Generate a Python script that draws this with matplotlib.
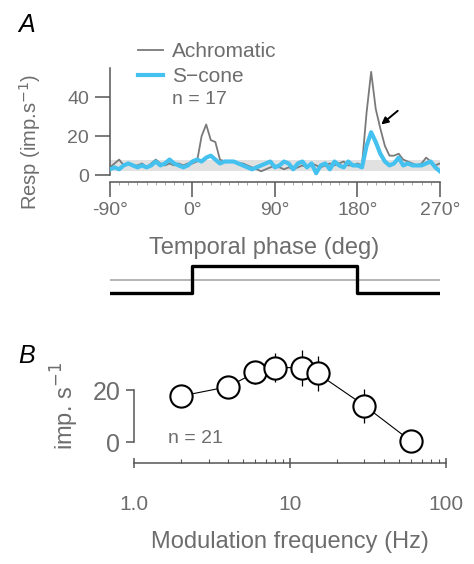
import numpy as np
import matplotlib.pyplot as plt
from matplotlib.ticker import MultipleLocator, FixedLocator, NullFormatter

plt.rcParams['font.family'] = ['Liberation Sans', 'DejaVu Sans']

# --- Panel A: population response vs temporal phase ---
phase = list(range(-90, 275, 5))
achromatic = [4, 6, 8, 5, 6, 5, 5, 6, 4, 6, 8, 6, 5, 6, 5, 6, 5, 6,
              6, 7, 20, 26, 18, 17, 8, 7, 7, 7, 6, 6, 5, 4, 3, 2, 3, 4,
              5, 4, 3, 4, 3, 4, 5, 4, 6, 5, 4, 5, 6, 5, 6, 7, 5, 5,
              6, 5, 32, 53, 34, 24, 15, 10, 10, 11, 8, 7, 6, 5, 6, 9, 7, 5, 6]
s_cone = [3, 4, 3, 5, 6, 5, 4, 5, 4, 5, 7, 5, 6, 8, 6, 5, 4, 5,
          7, 8, 7, 9, 10, 8, 6, 7, 7, 7, 6, 5, 4, 3, 4, 5, 6, 7,
          4, 5, 7, 6, 3, 6, 7, 4, 6, 1, 5, 6, 3, 7, 5, 4, 7, 5,
          5, 4, 15, 22, 17, 11, 7, 5, 6, 9, 5, 6, 5, 5, 5, 6, 7, 4, 2]
baseline_band = (2, 7.7)

# stimulus time course
stim_phase = [-90, 0, 180, 270]
stim_level = [0, 1, 0, 0]
stim_mean = 0.5

# --- Panel B: response vs modulation frequency ---
freq = [2, 4, 6, 8, 12, 15, 30, 60]
resp = [17.7, 21.3, 26.8, 28.7, 28.6, 26.4, 14, 0.2]
resp_err = [0, 0, 4.5, 5.5, 7, 6.7, 6.5, 0]

GREY_TXT = '#6d6d6d'
SPINE = '#555555'

fig = plt.figure(figsize=(4.74, 5.64), dpi=100)

# panel A traces
axA = fig.add_axes([0.232, 0.677, 0.696, 0.206])
axA.axhspan(*baseline_band, color='#e1e1e1', lw=0, zorder=0)
axA.plot(phase, achromatic, color='#7a7a7a', lw=1.3, label='Achromatic', zorder=2)
axA.plot(phase, s_cone, color='#45c1ef', lw=3, label='S\u2212cone', zorder=3)
axA.annotate('', xy=(206, 26), xytext=(224, 33),
             arrowprops=dict(arrowstyle='-|>', color='black', lw=1.4,
                             mutation_scale=10, shrinkA=0, shrinkB=0))
axA.set_xlim(-90, 270)
axA.set_ylim(-3.6, 56)
for s in ['top', 'right']:
    axA.spines[s].set_visible(False)
for s in ['left', 'bottom']:
    axA.spines[s].set_color(SPINE)
    axA.spines[s].set_linewidth(1.1)
axA.spines['left'].set_bounds(0, 55)
axA.set_xticks([-90, 0, 90, 180, 270])
axA.set_xticklabels(['-90\u00b0', '0\u00b0', '90\u00b0', '180\u00b0', '270\u00b0'])
axA.xaxis.set_minor_locator(MultipleLocator(10))
axA.set_yticks([0, 20, 40])
axA.tick_params(axis='x', which='major', length=11, width=1.1, color=SPINE,
                labelsize=14, labelcolor=GREY_TXT, pad=3)
axA.tick_params(axis='x', which='minor', length=2, width=0.6, color='#999999')
axA.tick_params(axis='y', length=11, width=1.1, color=SPINE,
                labelsize=14, labelcolor=GREY_TXT, pad=4)
axA.set_ylabel('Resp (imp.s$^{-1}$)', fontsize=14.5, color=GREY_TXT)
axA.yaxis.set_label_coords(-0.203, 0.345)
axA.legend(loc='upper left', bbox_to_anchor=(0.27, 0.944, 0, 0),
           bbox_transform=fig.transFigure, frameon=False, fontsize=15,
           handlelength=1.2, handletextpad=0.4, labelspacing=0.3,
           labelcolor=GREY_TXT, borderpad=0)
fig.text(172 / 474, 1 - 100 / 564, 'n = 17', fontsize=14, color=GREY_TXT,
         va='center', ha='left')
fig.text(264 / 474, 1 - 248 / 564, 'Temporal phase (deg)', fontsize=17,
         color=GREY_TXT, ha='center', va='center')
fig.text(18 / 474, 1 - 25 / 564, 'A', fontsize=18, style='italic', va='center')

# stimulus waveform
axS = fig.add_axes([0.232, 0.468, 0.696, 0.080])
axS.axhline(stim_mean, color='#a8a8a8', lw=1.2)
axS.plot(stim_phase, stim_level, drawstyle='steps-post', color='black', lw=2.4)
axS.set_xlim(-90, 270)
axS.set_ylim(-0.26, 1.41)
axS.axis('off')

# panel B tuning curve
axB = fig.add_axes([0.283, 0.179, 0.658, 0.203])
axB.errorbar(freq, resp, yerr=resp_err, fmt='none', ecolor='black',
             elinewidth=0.9, zorder=2)
axB.plot(freq, resp, color='black', lw=0.8, marker='o', ms=16,
         mfc='white', mec='black', mew=1.5, zorder=3, clip_on=False)
axB.set_xscale('log')
axB.set_xlim(1, 100)
axB.set_ylim(-8.1, 36)
for s in ['top', 'right']:
    axB.spines[s].set_visible(False)
for s in ['left', 'bottom']:
    axB.spines[s].set_color(SPINE)
    axB.spines[s].set_linewidth(1.1)
axB.spines['left'].set_bounds(0, 20)
axB.xaxis.set_major_locator(FixedLocator([1, 10, 100]))
axB.set_xticklabels(['1.0', '10', '100'])
axB.xaxis.set_minor_locator(FixedLocator([2, 3, 4, 5, 6, 7, 8, 9,
                                          20, 30, 40, 50, 60, 70, 80, 90]))
axB.xaxis.set_minor_formatter(NullFormatter())
axB.tick_params(axis='x', which='major', direction='inout', length=7,
                width=1.1, color=SPINE, labelsize=15, labelcolor=GREY_TXT, pad=19.5)
axB.tick_params(axis='x', which='minor', direction='in', length=3,
                width=0.8, color=SPINE)
axB.set_yticks([0, 20])
axB.tick_params(axis='y', length=6, width=1.1, color=SPINE,
                labelsize=18, labelcolor=GREY_TXT, pad=4)
axB.set_ylabel('imp. s$^{-1}$', fontsize=17, color=GREY_TXT, labelpad=8)
axB.set_xlabel('Modulation frequency (Hz)', fontsize=17, color=GREY_TXT, labelpad=12)
axB.text(1.65, 1.5, 'n = 21', fontsize=14, color=GREY_TXT, va='center', ha='left')
fig.text(18 / 474, 1 - 356 / 564, 'B', fontsize=18, style='italic', va='center')

fig.savefig('out.png', dpi=100)
